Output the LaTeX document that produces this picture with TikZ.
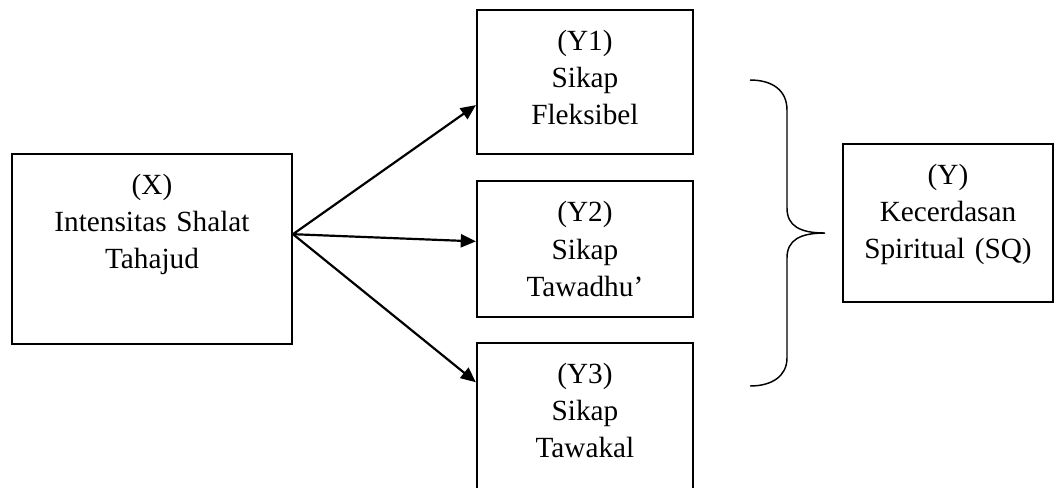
\documentclass[tikz,border=0pt]{standalone}
\usepackage{fontspec}
\setmainfont{Liberation Serif}
\usetikzlibrary{arrows.meta, positioning}

\tikzset{
    varbox/.style={draw, line width=0.8pt, inner sep=0pt, align=center,
        text height=16.6pt, font=\fontsize{12}{15.2}\selectfont},
    subbox/.style={varbox, text width=88.6pt},
}

\begin{document}
\begin{tikzpicture}[x=0.41pt, y=-0.41pt, ->, >={Triangle[length=6.2pt, width=5.4pt]}]
    %
    \clip (0,0) rectangle (1056,487);
    \node [varbox, text width=114.8pt, text depth=61.3pt] (X) at (152,249) {(X)\\Intensitas Shalat\\Tahajud};
    \node [subbox, text depth=38.8pt, right of=X, node distance=177.5pt] (Y2) {(Y2)\\Sikap\\Tawadhu’};
    \node [subbox, text depth=42.4pt, above of=Y2, node distance=68.5pt] (Y1) {(Y1)\\Sikap\\Fleksibel};
    \node [subbox, text depth=43.3pt, below of=Y2, node distance=68.3pt] (Y3) {(Y3)\\Sikap\\Tawakal};
    \node [varbox, text width=86.1pt, text depth=48.2pt] (Y) at (948,223) {(Y)\\Kecerdasan\\Spiritual (SQ)};
    %
    \path [line width=0.9pt] (X.6.5) edge (Y1.192);
    \path [line width=0.9pt] (X.6.5) edge (Y2.176);
    \path [line width=0.9pt] (X.6.5) edge (Y3.163.5);
    %
    \coordinate (btop) at (750,80);
    \coordinate (btip) at (825,233);
    \coordinate (bbot) at (750,386);
    \draw [-, line width=0.6pt] (btop) .. controls (772,80) and (787,90) .. (787,110)
        -- (787,208) .. controls (787,226) and (800,233) .. (btip)
        .. controls (800,233) and (787,240) .. (787,258)
        -- (787,358) .. controls (787,376) and (772,386) .. (bbot);
\end{tikzpicture}
\end{document}
